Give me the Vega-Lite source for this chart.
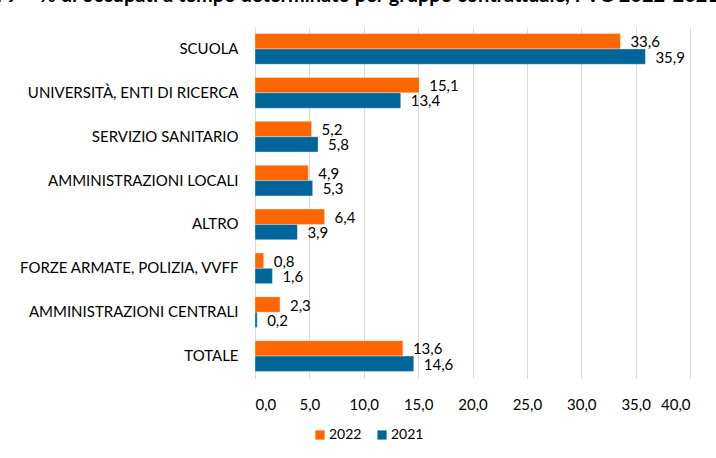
{
  "$schema": "https://vega.github.io/schema/vega-lite/v6.json",
  "autosize": {"type": "none"},
  "width": 435,
  "height": 351,
  "padding": {"left": 255, "top": 27, "right": 26, "bottom": 80},
  "background": "white",
  "title": {
    "text": "Figura 9 – % di occupati a tempo determinato per gruppo contrattuale, FVG 2022-2021",
    "anchor": "start",
    "frame": "group",
    "dx": -309,
    "dy": 17,
    "baseline": "alphabetic",
    "font": "Lato",
    "fontWeight": "bold",
    "fontSize": 20,
    "color": "#000000",
    "offset": 22
  },
  "data": {
    "values": [
      {"gruppo": "SCUOLA", "anno": "2022", "valore": 33.6},
      {"gruppo": "SCUOLA", "anno": "2021", "valore": 35.9},
      {"gruppo": "UNIVERSITÀ, ENTI DI RICERCA", "anno": "2022", "valore": 15.1},
      {"gruppo": "UNIVERSITÀ, ENTI DI RICERCA", "anno": "2021", "valore": 13.4},
      {"gruppo": "SERVIZIO SANITARIO", "anno": "2022", "valore": 5.2},
      {"gruppo": "SERVIZIO SANITARIO", "anno": "2021", "valore": 5.8},
      {"gruppo": "AMMINISTRAZIONI LOCALI", "anno": "2022", "valore": 4.9},
      {"gruppo": "AMMINISTRAZIONI LOCALI", "anno": "2021", "valore": 5.3},
      {"gruppo": "ALTRO", "anno": "2022", "valore": 6.4},
      {"gruppo": "ALTRO", "anno": "2021", "valore": 3.9},
      {"gruppo": "FORZE ARMATE, POLIZIA, VVFF", "anno": "2022", "valore": 0.8},
      {"gruppo": "FORZE ARMATE, POLIZIA, VVFF", "anno": "2021", "valore": 1.6},
      {"gruppo": "AMMINISTRAZIONI CENTRALI", "anno": "2022", "valore": 2.3},
      {"gruppo": "AMMINISTRAZIONI CENTRALI", "anno": "2021", "valore": 0.2},
      {"gruppo": "TOTALE", "anno": "2022", "valore": 13.6},
      {"gruppo": "TOTALE", "anno": "2021", "valore": 14.6}
    ]
  },
  "encoding": {
    "y": {
      "field": "gruppo",
      "type": "nominal",
      "sort": null,
      "scale": {"paddingInner": 0.3, "paddingOuter": 0.15},
      "axis": {
        "title": null,
        "ticks": false,
        "labelPadding": 17,
        "labelFont": "Lato",
        "labelFontSize": 15,
        "labelColor": "#000000",
        "domainColor": "#d9d9d9",
        "labelLimit": 300
      }
    },
    "yOffset": {
      "field": "anno",
      "type": "nominal",
      "scale": {"domain": ["2022", "2021"]}
    },
    "x": {
      "field": "valore",
      "type": "quantitative",
      "scale": {"domain": [0, 40], "nice": false},
      "axis": {
        "title": null,
        "values": [0, 5, 10, 15, 20, 25, 30, 35, 40],
        "format": ".1f",
        "ticks": false,
        "domain": false,
        "grid": true,
        "gridColor": "#d9d9d9",
        "labelPadding": 19,
        "labelFont": "Lato",
        "labelFontSize": 15,
        "labelColor": "#000000"
      }
    }
  },
  "layer": [
    {
      "mark": {"type": "bar", "stroke": "white", "strokeOpacity": 0.35, "strokeWidth": 1},
      "encoding": {
        "color": {
          "field": "anno",
          "type": "nominal",
          "scale": {"domain": ["2022", "2021"], "range": ["#FF6600", "#006699"]},
          "legend": {
            "title": null,
            "orient": "none",
            "direction": "horizontal",
            "legendX": 58,
            "legendY": 401,
            "symbolType": "square",
            "symbolSize": 85,
            "symbolStrokeWidth": 0,
            "labelFont": "Lato",
            "labelFontSize": 14,
            "labelColor": "#000000",
            "columnPadding": 13,
            "labelOffset": 2
          }
        }
      }
    },
    {
      "mark": {"type": "text", "align": "left", "baseline": "middle", "dx": 10, "dy": 1, "font": "Lato", "fontSize": 15, "color": "#000000"},
      "encoding": {
        "text": {"field": "valore", "type": "quantitative", "format": ".1f"}
      }
    }
  ],
  "config": {
    "locale": {
      "number": {"decimal": ",", "thousands": ".", "grouping": [3], "currency": ["€", ""]}
    },
    "view": {"stroke": null}
  }
}
